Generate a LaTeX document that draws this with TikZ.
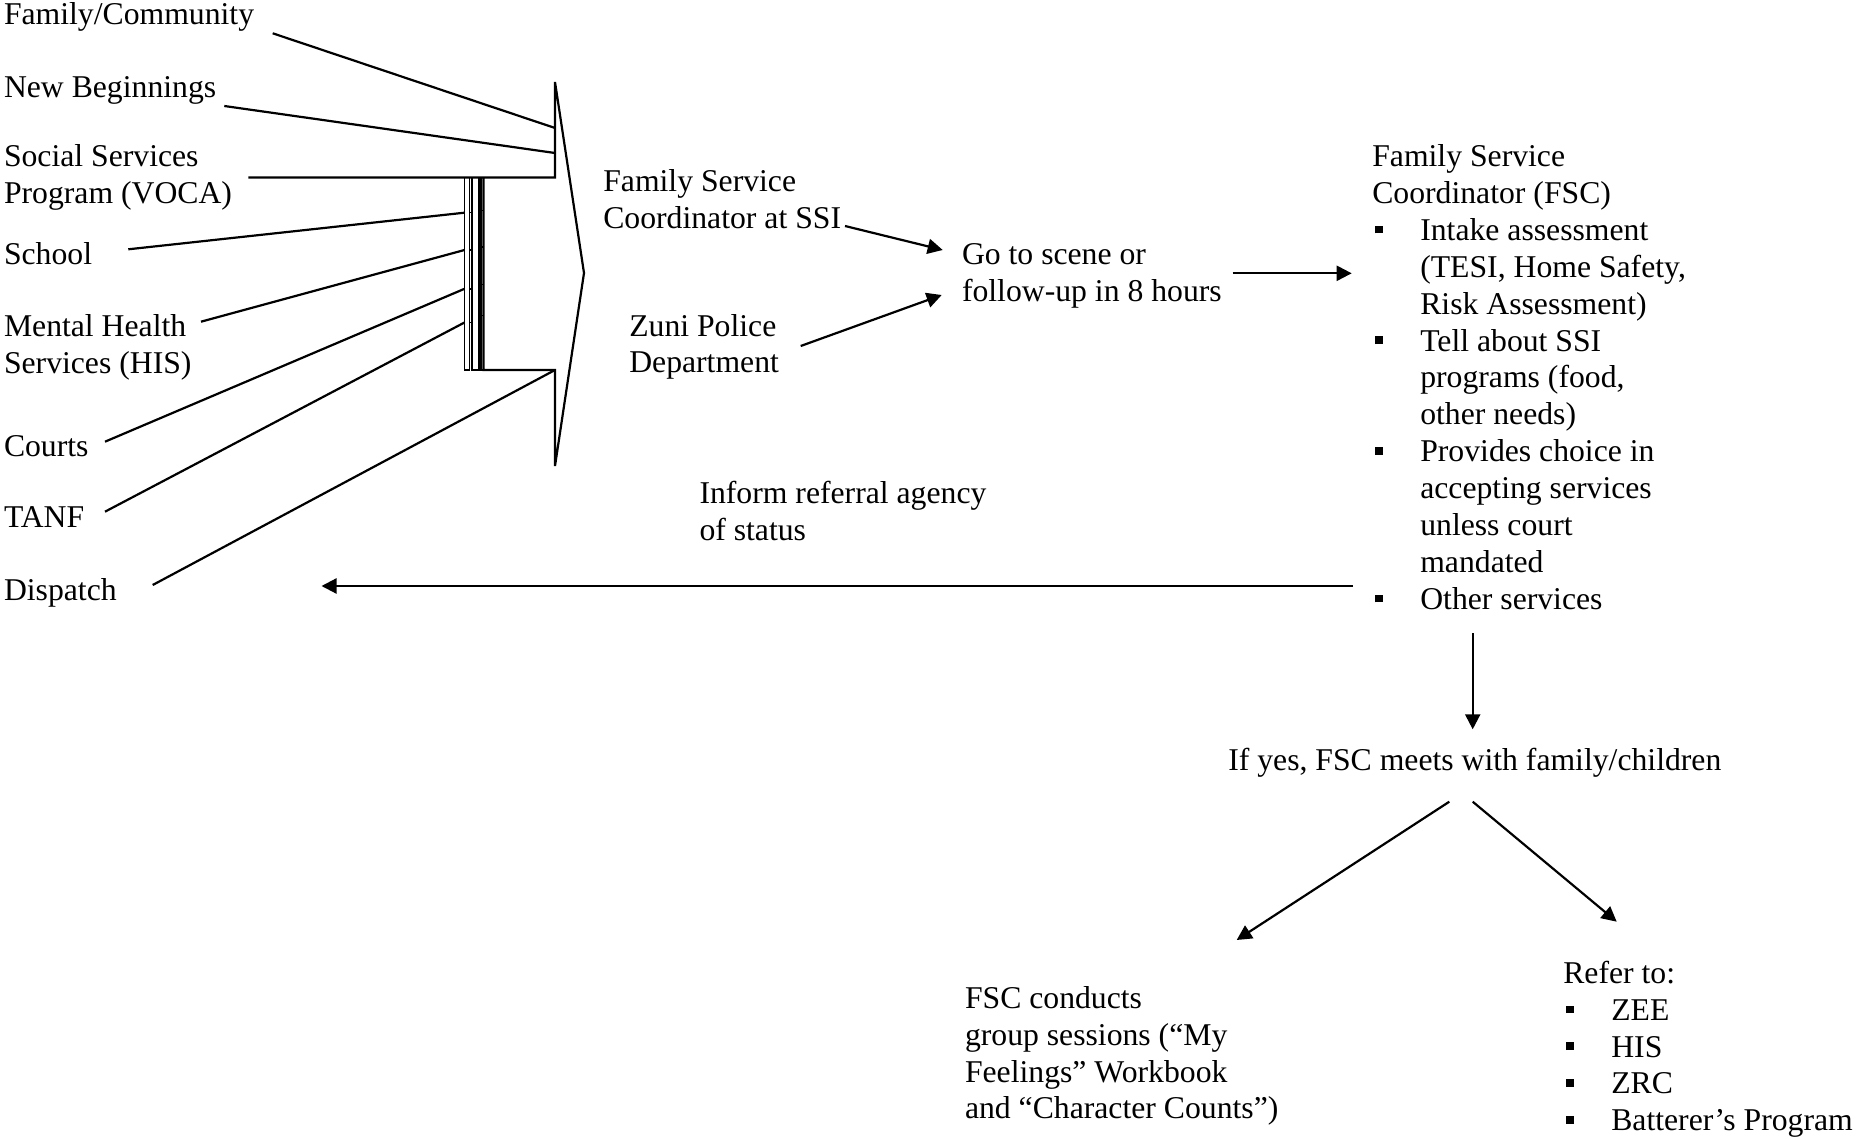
\documentclass[tikz,border=0pt]{standalone}
\usepackage{fontspec}
\setmainfont{Liberation Serif}
\usetikzlibrary{arrows.meta}
\newcommand{\mlines}[1]{\begin{tabular}[t]{@{}l@{}}#1\end{tabular}}
\newcommand{\sqb}{\makebox[24pt][l]{\hspace*{1.4pt}\rule[3.5pt]{3.8pt}{3.8pt}}}
\newcommand{\ind}{\hspace*{24pt}}
\begin{document}
\begin{tikzpicture}[x=0.5pt,y=-0.5pt,
  txt/.style={anchor=base west, inner sep=0pt, outer sep=0pt, font=\fontsize{15.85}{18.44}\selectfont},
  ln/.style={line width=1.1pt, line join=miter},
  thin/.style={line width=0.8pt},
  arr/.style={line width=1.1pt, -{Triangle[length=7.5pt,width=7.5pt]}}]
\useasboundingbox (0,0) rectangle (1858,1139);

% left labels
\node[txt] (fam)    at (4,25)    {Family/Community};
\node[txt] (newb)   at (4,97.3)  {New Beginnings};
\node[txt] (soc)    at (4,166.7) {\mlines{Social Services\\ Program (VOCA)}};
\node[txt] (school) at (4,264)   {School};
\node[txt] (mh)     at (4,336.7) {\mlines{Mental Health\\ Services (HIS)}};
\node[txt] (courts) at (4,456.7) {Courts};
\node[txt] (tanf)   at (4,527.5) {TANF};
\node[txt] (disp)   at (4,600)   {Dispatch};

% chevron arrow outline
\coordinate (socEnd) at (248.3,177.5);
\coordinate (upC)    at (555,177.5);
\coordinate (topP)   at (555,82);
\coordinate (tipP)   at (584,273);
\coordinate (botP)   at (555,466);
\coordinate (lowC)   at (555,370);
\draw[ln] (socEnd) -- (upC) -- (topP) -- (tipP) -- (botP) -- (lowC) -- (483.5,370) -- (483.5,177.5);
\draw[thin] (464.5,177.5) rectangle (469.5,370);
\draw[thin] (472,177.5) rectangle (479,370);
\draw[thin] (481,177.5) -- (481,370) -- (483.5,370);
% ticks through strips
\foreach \a/\b in {212.7/210.7, 250/247.3, 288.8/284.5, 322.5/315.5}{
  \draw[thin] (469.5,\a) -- (472,\a);
  \draw[thin] (479,\b) -- (483.5,\b);
}

% feeder lines
\coordinate (famS) at (272.7,33.3);   \coordinate (famE) at (555,128);
\coordinate (newS) at (224.3,106);    \coordinate (newE) at (555,153);
\coordinate (schS) at (128.3,249.3);  \coordinate (schE) at (464.5,212.7);
\coordinate (mhS)  at (201,321.7);    \coordinate (mhE)  at (464.5,250);
\coordinate (coS)  at (105,441.7);    \coordinate (coE)  at (464.5,288.8);
\coordinate (taS)  at (105,511.7);    \coordinate (taE)  at (464.5,322.5);
\coordinate (diS)  at (152.7,585);
\draw[ln] (famS) -- (famE);
\draw[ln] (newS) -- (newE);
\draw[ln] (schS) -- (schE);
\draw[ln] (mhS) -- (mhE);
\draw[ln] (coS) -- (coE);
\draw[ln] (taS) -- (taE);
\draw[ln] (diS) -- (lowC);

% middle
\node[txt] (ssi)  at (603.3,191.7) {\mlines{Family Service\\ Coordinator at SSI}};
\node[txt] (zuni) at (629.3,336)   {\mlines{Zuni Police\\ Department}};
\node[txt] (go)   at (962,265)     {\mlines{Go to scene or\\ follow-up in 8 hours}};
\node[txt] (inform) at (699.5,503.3) {\mlines{Inform referral agency\\ of status}};

\coordinate (ssiOut) at (845,226);    \coordinate (goIn1) at (942.7,250);
\coordinate (zuniOut) at (800.7,346); \coordinate (goIn2) at (941.7,295);
\coordinate (goOut) at (1232.7,273.3); \coordinate (fscIn) at (1351.7,273.3);
\coordinate (fscOut) at (1353,586);   \coordinate (dispIn) at (321.5,586);
\draw[arr] (ssiOut) -- (goIn1);
\draw[arr] (zuniOut) -- (goIn2);
\draw[arr] (goOut) -- (fscIn);
\draw[arr] (fscOut) -- (dispIn);

% right block
\node[txt] (fsc) at (1372.3,166.7) {\mlines{Family Service\\ Coordinator (FSC)\\
 \sqb Intake assessment\\ \ind (TESI, Home Safety,\\ \ind Risk Assessment)\\
 \sqb Tell about SSI\\ \ind programs (food,\\ \ind other needs)\\
 \sqb Provides choice in\\ \ind accepting services\\ \ind unless court\\ \ind mandated\\
 \sqb Other services}};

\node[txt] (ifyes) at (1228.3,770) {If yes, FSC meets with family/children};
\coordinate (fscDown) at (1472.7,633.3); \coordinate (ifIn) at (1472.7,729.3);
\draw[arr] (fscDown) -- (ifIn);

\node[txt] (conducts) at (965,1008.3) {\mlines{FSC conducts\\ group sessions (“My\\ Feelings” Workbook\\ and “Character Counts”)}};
\node[txt] (refer) at (1563.3,983.3) {\mlines{Refer to:\\ \sqb ZEE\\ \sqb HIS\\ \sqb ZRC\\ \sqb Batterer’s Program}};

\coordinate (ifL) at (1449.3,801.7); \coordinate (condIn) at (1236.7,940);
\coordinate (ifR) at (1472.7,801.7); \coordinate (refIn) at (1616.7,921.7);
\draw[arr] (ifL) -- (condIn);
\draw[arr] (ifR) -- (refIn);
\end{tikzpicture}
\end{document}
